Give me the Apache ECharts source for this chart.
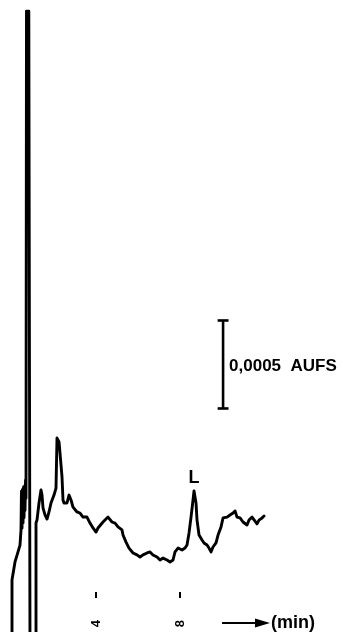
<!DOCTYPE html>
<html>
<head>
<meta charset="utf-8">
<script src="https://cdn.jsdelivr.net/npm/echarts@6/dist/echarts.min.js"></script>
<style>
  html, body { margin: 0; padding: 0; background: #fff; }
  #chart { width: 343px; height: 632px; }
</style>
</head>
<body>
<div id="chart"></div>
<script>
// Retention time (min) along the recorder trace.
const timeMin = [
  0, 0, 0.143, 0.286, 0.381, 0.429, 0.45, 0.476, 0.5, 0.524, 0.55, 0.571, 0.6, 0.619, 0.645, 0.667,
  0.69, 0.8, 0.857,
  1.143, 1.143, 1.19, 1.286, 1.381, 1.429, 1.476, 1.571, 1.667, 1.762, 1.857,
  1.952, 2.0, 2.095, 2.143, 2.238, 2.286, 2.381, 2.429, 2.476, 2.619, 2.714,
  2.81, 2.905, 3.0, 3.095, 3.238, 3.381, 3.571, 3.714, 3.857, 4.0, 4.095,
  4.19, 4.333, 4.571, 4.762, 4.905, 5.048, 5.238, 5.286, 5.429, 5.571, 5.762,
  5.952, 6.095, 6.238, 6.429, 6.571, 6.714, 6.905, 7.048, 7.19, 7.381, 7.524,
  7.667, 7.762, 7.905, 8.095, 8.238, 8.333, 8.429, 8.524, 8.619, 8.667, 8.762,
  8.81, 8.905, 9.048, 9.143, 9.286, 9.381, 9.476, 9.571, 9.714, 9.81, 9.952,
  10.048, 10.238, 10.381, 10.524, 10.619, 10.714, 10.857, 11.0, 11.19, 11.286,
  11.429, 11.524, 11.667, 11.762, 11.905, 12.0
];
// Detector response in units of 0.0001 AUFS; -1 marks the pen running off the paper below.
const response = [
  -1, 2.95, 3.98, 4.55, 4.94, 5.80, 8.0, 5.9, 8.1, 6.2, 8.24, 6.5, 8.3, 6.9, 8.64, 7.6,
  35.28, 35.28, -1,
  -1, 6.19, 6.36, 7.33, 8.07, 7.78, 7.05, 6.65, 6.42, 6.82, 7.33,
  7.39, 7.78, 8.18, 11.02, 10.80, 10.17, 8.81, 7.50, 7.33, 7.33, 7.78,
  7.50, 7.10, 7.05, 6.82, 6.76, 6.53, 6.53, 6.19, 5.91, 5.68, 5.91,
  5.97, 6.25, 6.53, 6.25, 6.19, 5.97, 5.80, 5.51, 5.11, 4.77, 4.49,
  4.38, 4.26, 4.38, 4.49, 4.55, 4.38, 4.26, 4.09, 4.20, 4.09, 3.98,
  4.09, 4.55, 4.77, 4.66, 4.77, 4.94, 5.63, 6.53, 7.50, 8.01, 7.33,
  6.36, 5.51, 5.23, 5.06, 4.94, 4.77, 4.55, 4.83, 5.06, 5.51, 5.97,
  6.48, 6.53, 6.65, 6.76, 6.88, 6.53, 6.48, 6.25, 6.08, 6.36,
  6.53, 6.48, 6.14, 6.36, 6.48, 6.59
];
// Time axis ticks (min).
const timeTicks = [4, 8];
// Named peak.
const peakName = 'L';
const peakTime = 8.667;
const peakResponse = 8.01;
// Sensitivity bar: 0.0005 AUFS = 5 response units.
const scaleBarTime = 10.05;
const scaleBarLow = 12.7;
const scaleBarHigh = 17.7;
const scaleBarCapHalf = 0.26;
const scaleBarText = '0,0005  AUFS';
const timeUnit = '(min)';

const traceData = timeMin.map((t, i) => [t, response[i]]);
const ink = '#000';

const chart = echarts.init(document.getElementById('chart'), null, { renderer: 'canvas' });

const barStyle = { color: ink, width: 2.6 };

chart.setOption({
  animation: false,
  backgroundColor: '#fff',
  grid: { left: 12, right: 0, top: 0, bottom: 0 },
  xAxis: {
    type: 'value',
    min: 0,
    max: 15.76,
    offset: -40,
    axisLine: { show: false },
    splitLine: { show: false },
    axisTick: {
      show: true,
      customValues: timeTicks,
      length: 6,
      lineStyle: { color: ink, width: 2 }
    },
    axisLabel: {
      customValues: timeTicks,
      rotate: 90,
      margin: 28,
      fontSize: 13,
      fontWeight: 'bold',
      fontFamily: 'Liberation Sans',
      color: ink
    }
  },
  yAxis: { type: 'value', min: 0, max: 35.91, show: false },
  series: [
    {
      type: 'line',
      data: traceData,
      showSymbol: false,
      lineStyle: { color: ink, width: 2.9, join: 'round', cap: 'round' },
      markPoint: {
        symbol: 'circle',
        symbolSize: 0,
        data: [{ coord: [peakTime, peakResponse] }],
        label: {
          show: true,
          formatter: peakName,
          position: 'top',
          distance: 4,
          fontSize: 18,
          fontWeight: 'bold',
          fontFamily: 'Liberation Sans',
          color: ink
        }
      }
    },
    {
      type: 'line',
      data: [[scaleBarTime, scaleBarLow], [scaleBarTime, scaleBarHigh]],
      showSymbol: false,
      lineStyle: barStyle,
      markPoint: {
        symbol: 'circle',
        symbolSize: 0,
        data: [{ coord: [scaleBarTime, (scaleBarLow + scaleBarHigh) / 2] }],
        label: {
          show: true,
          formatter: scaleBarText,
          position: 'right',
          distance: 6,
          offset: [0, 2],
          fontSize: 17,
          fontWeight: 'bold',
          fontFamily: 'Liberation Sans',
          color: ink
        }
      }
    },
    {
      type: 'line',
      data: [[scaleBarTime - scaleBarCapHalf, scaleBarHigh], [scaleBarTime + scaleBarCapHalf, scaleBarHigh]],
      showSymbol: false,
      lineStyle: barStyle
    },
    {
      type: 'line',
      data: [[scaleBarTime - scaleBarCapHalf, scaleBarLow], [scaleBarTime + scaleBarCapHalf, scaleBarLow]],
      showSymbol: false,
      lineStyle: barStyle
    }
  ],
  graphic: [
    {
      type: 'line',
      shape: { x1: 222, y1: 623, x2: 260, y2: 623 },
      style: { stroke: ink, lineWidth: 2 }
    },
    {
      type: 'polygon',
      shape: { points: [[255, 618.5], [270, 623], [255, 627.5]] },
      style: { fill: ink }
    },
    {
      type: 'text',
      x: 271,
      y: 623,
      style: {
        text: timeUnit,
        fill: ink,
        font: 'bold 18px "Liberation Sans"',
        verticalAlign: 'middle',
        align: 'left'
      }
    }
  ]
});
</script>
</body>
</html>
